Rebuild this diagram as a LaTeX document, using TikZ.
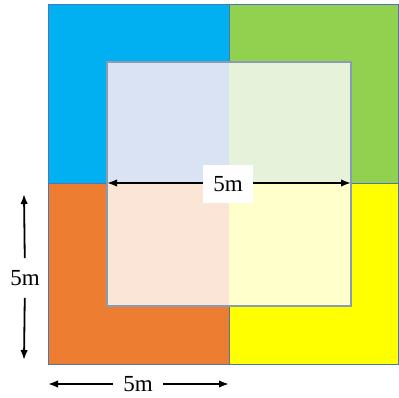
\documentclass[tikz,border=0pt]{standalone}
\usepackage{fontspec}
\setmainfont{Liberation Serif}
\usetikzlibrary{arrows.meta,positioning}

\definecolor{qblue}{HTML}{00B0F0}
\definecolor{qgreen}{HTML}{92D050}
\definecolor{qorange}{HTML}{ED7D31}
\definecolor{qyellow}{HTML}{FFFF00}
\definecolor{lblue}{HTML}{DAE3F3}
\definecolor{lgreen}{HTML}{E6F2DA}
\definecolor{lorange}{HTML}{FBE5D6}
\definecolor{lyellow}{HTML}{FFFFCC}
\definecolor{edge}{HTML}{4F76B4}
\definecolor{inedge}{HTML}{8A9CB4}

\begin{document}
\begin{tikzpicture}[x=1pt,y=-1pt,
  quad/.style={draw=edge,line width=0.8pt},
  inner/.style={draw=none},
  dim/.style={line width=1.8pt,-{Latex[length=10pt,width=7.5pt]}},
  lbl/.style={font=\fontsize{23}{27}\selectfont,inner sep=0pt}]
\useasboundingbox (0,0) rectangle (399,398);

% outer squares
\path[quad,fill=qblue] (48,4) rectangle (229,183);
\path[quad,fill=qgreen] (229,4) rectangle (398.5,183);
\path[quad,fill=qorange] (48,183) rectangle (229,364);
\path[quad,fill=qyellow] (229,183) rectangle (398.5,364);

% inner square
\path[inner,fill=lblue] (107,62) rectangle (229,183);
\path[inner,fill=lgreen] (229,62) rectangle (351,183);
\path[inner,fill=lorange] (107,183) rectangle (229,306);
\path[inner,fill=lyellow] (229,183) rectangle (351,306);
\draw[inedge,line width=1.2pt] (107,62) rectangle (351,306);

% dimensions
\coordinate (hl) at (107,183);
\coordinate (hr) at (351,183);
\draw[dim,{Latex[length=10pt,width=7.5pt]}-{Latex[length=10pt,width=7.5pt]}] (hl) -- (hr);
\node[lbl,fill=white,inner xsep=10pt,inner ysep=11pt] (hlab) at (228,184) {5m};

\coordinate (vtop) at (24,194);
\coordinate (vbot) at (24,360);
\node[lbl,inner xsep=3pt,inner ysep=12pt] (vlab) at (25,278) {5m};
\draw[dim] (vlab) -- (vtop);
\draw[dim] (vlab) -- (vbot);

\coordinate (bl) at (48,384);
\coordinate (br) at (229,384);
\node[lbl,inner xsep=10pt,inner ysep=4pt] (blab) at (138,384) {5m};
\draw[dim] (blab) -- (bl);
\draw[dim] (blab) -- (br);
\end{tikzpicture}
\end{document}
